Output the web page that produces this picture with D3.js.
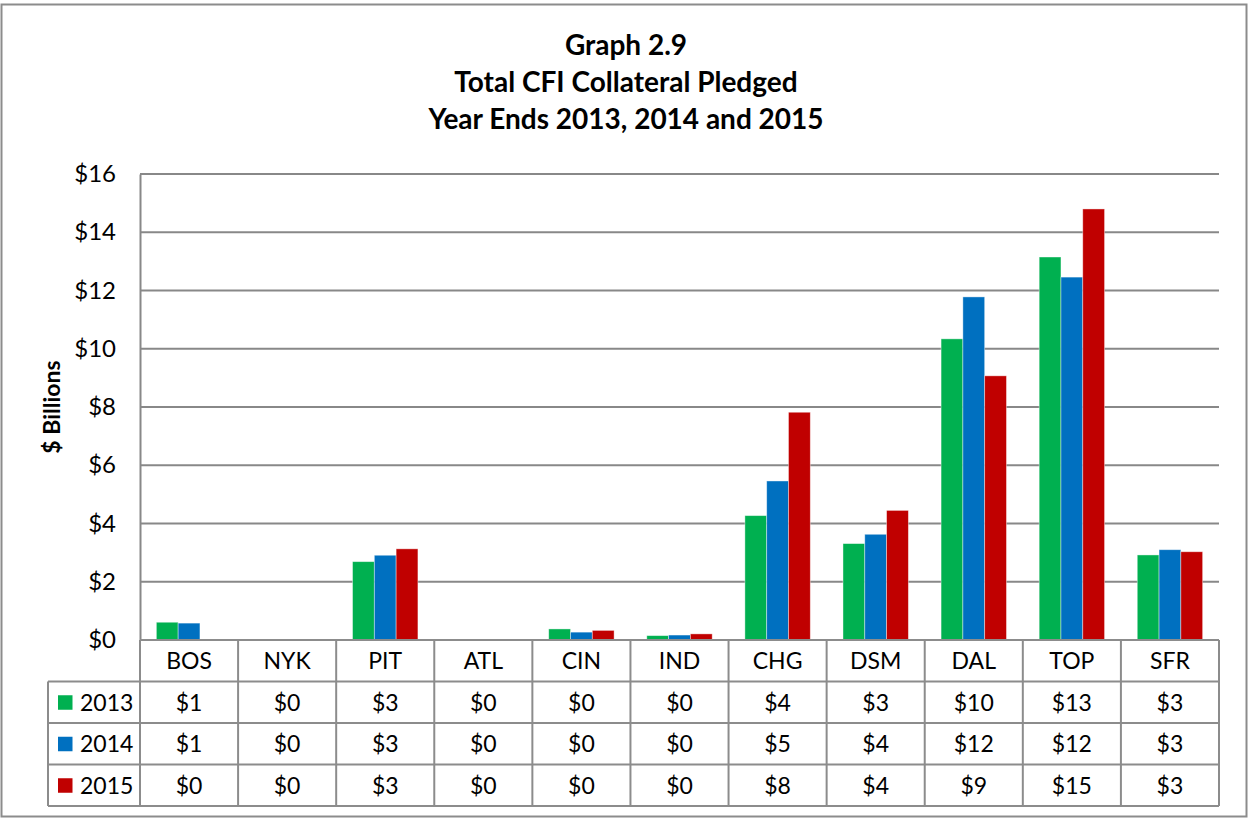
<!DOCTYPE html>
<html>
<head>
<meta charset="utf-8">
<script src="https://cdn.jsdelivr.net/npm/d3@7"></script>
<style>
  body { margin: 0; background: #fff; }
  text { font-family: Lato, "Open Sans", sans-serif; fill: #000; }
</style>
</head>
<body>
<script>
var categories = ["BOS", "NYK", "PIT", "ATL", "CIN", "IND", "CHG", "DSM", "DAL", "TOP", "SFR"];
var years = ["2013", "2014", "2015"];
var v2013 = [0.61, 0, 2.69, 0, 0.38, 0.15, 4.27, 3.31, 10.34, 13.15, 2.92];
var v2014 = [0.58, 0, 2.91, 0, 0.27, 0.17, 5.46, 3.63, 11.78, 12.46, 3.10];
var v2015 = [0.01, 0, 3.13, 0, 0.33, 0.21, 7.82, 4.45, 9.07, 14.80, 3.03];
var yTicks = [0, 2, 4, 6, 8, 10, 12, 14, 16];
var colors = ["#00B050", "#0070C0", "#C00000"];
var titleLines = ["Graph 2.9", "Total CFI Collateral Pledged", "Year Ends 2013, 2014 and 2015"];

var series = [v2013, v2014, v2015];

var width = 1249, height = 819;
var plotLeft = 140, plotRight = 1219, plotTop = 174, plotBottom = 640;
var tableLeft = 48;
var rowH = 41.5;

var svg = d3.select("body").append("svg")
  .attr("width", width)
  .attr("height", height);

// outer frame
svg.append("rect")
  .attr("x", 1.5).attr("y", 4.5)
  .attr("width", 1245).attr("height", 812)
  .attr("fill", "#fff")
  .attr("stroke", "#8c8c8c")
  .attr("stroke-width", 2);

// title
svg.append("g").selectAll("text")
  .data(titleLines)
  .enter().append("text")
    .attr("x", 626)
    .attr("y", function(d, i) { return 55 + i * 37; })
    .attr("text-anchor", "middle")
    .style("font-size", "28px")
    .style("font-weight", "bold")
    .text(function(d) { return d; });

var x0 = d3.scaleBand()
  .domain(categories)
  .range([plotLeft, plotRight]);

// gap width 150% of a bar => 0.75 bar on each side
var x1 = d3.scaleBand()
  .domain(years)
  .range([0, x0.bandwidth()])
  .paddingInner(0)
  .paddingOuter(0.75);

var y = d3.scaleLinear()
  .domain([0, 16])
  .range([plotBottom, plotTop]);

// gridlines
svg.append("g")
    .attr("class", "grid")
  .selectAll("line")
  .data(yTicks)
  .enter().append("line")
    .attr("x1", plotLeft).attr("x2", plotRight)
    .attr("y1", function(d) { return y(d); })
    .attr("y2", function(d) { return y(d); })
    .attr("stroke", "#888")
    .attr("stroke-width", 2);

// y axis
var yAxis = d3.axisLeft(y)
  .tickValues(yTicks)
  .tickSize(0)
  .tickPadding(24)
  .tickFormat(function(d) { return "$" + d; });

var ya = svg.append("g")
  .attr("transform", "translate(" + plotLeft + ",0)")
  .call(yAxis);
ya.select(".domain").attr("stroke", "#888").attr("stroke-width", 2);
ya.selectAll("text")
  .style("font-size", "24px")
  .style("font-family", "Lato, sans-serif")
  .attr("fill", "#000");

svg.append("text")
  .attr("transform", "translate(60," + ((plotTop + plotBottom) / 2) + ") rotate(-90)")
  .attr("text-anchor", "middle")
  .style("font-size", "23px")
  .style("font-weight", "bold")
  .text("$ Billions");

// bars
var groups = svg.append("g")
  .selectAll("g")
  .data(categories)
  .enter().append("g")
    .attr("transform", function(d) { return "translate(" + x0(d) + ",0)"; });

groups.selectAll("rect")
  .data(function(d, i) { return years.map(function(yr, j) { return { year: yr, value: series[j][i], k: j }; }); })
  .enter().append("rect")
    .attr("x", function(d) { return x1(d.year); })
    .attr("width", x1.bandwidth())
    .attr("y", function(d) { return y(d.value); })
    .attr("height", function(d) { return y(0) - y(d.value); })
    .attr("fill", function(d) { return colors[d.k]; })
    .attr("stroke", "rgba(255,255,255,0.5)")
    .attr("stroke-width", 0.8);

// data table
var table = svg.append("g").attr("class", "table");
var lineColor = "#8c8c8c";
var tableBottom = plotBottom + rowH * 4;

// horizontal lines
[0, 1, 2, 3, 4].forEach(function(r) {
  table.append("line")
    .attr("x1", r === 0 ? plotLeft : tableLeft).attr("x2", plotRight)
    .attr("y1", plotBottom + r * rowH).attr("y2", plotBottom + r * rowH)
    .attr("stroke", lineColor).attr("stroke-width", 2);
});

// vertical lines
var colEdges = categories.map(function(c) { return x0(c); }).concat([plotRight]);
table.selectAll("line.v")
  .data(colEdges)
  .enter().append("line")
    .attr("class", "v")
    .attr("x1", function(d) { return d; }).attr("x2", function(d) { return d; })
    .attr("y1", plotBottom).attr("y2", tableBottom)
    .attr("stroke", lineColor).attr("stroke-width", 2);

table.append("line")
  .attr("x1", tableLeft).attr("x2", tableLeft)
  .attr("y1", plotBottom + rowH).attr("y2", tableBottom)
  .attr("stroke", lineColor).attr("stroke-width", 2);

// category labels
table.selectAll("text.cat")
  .data(categories)
  .enter().append("text")
    .attr("class", "cat")
    .attr("x", function(d) { return x0(d) + x0.bandwidth() / 2; })
    .attr("y", plotBottom + rowH / 2)
    .attr("dy", "0.36em")
    .attr("text-anchor", "middle")
    .style("font-size", "23px")
    .text(function(d) { return d; });

var fmt = function(v) { return "$" + d3.format(".0f")(v); };

years.forEach(function(yr, j) {
  var cy = plotBottom + rowH * (j + 1) + rowH / 2;
  table.append("rect")
    .attr("x", 58).attr("y", cy - 7)
    .attr("width", 14.5).attr("height", 14.5)
    .attr("fill", colors[j]);
  table.append("text")
    .attr("x", 80).attr("y", cy)
    .attr("dy", "0.36em")
    .style("font-size", "23px")
    .text(yr);
  table.selectAll("text.v" + yr)
    .data(series[j])
    .enter().append("text")
      .attr("x", function(d, i) { return x0(categories[i]) + x0.bandwidth() / 2; })
      .attr("y", cy)
      .attr("dy", "0.36em")
      .attr("text-anchor", "middle")
      .style("font-size", "23px")
      .text(function(d) { return fmt(d); });
});
</script>
</body>
</html>
